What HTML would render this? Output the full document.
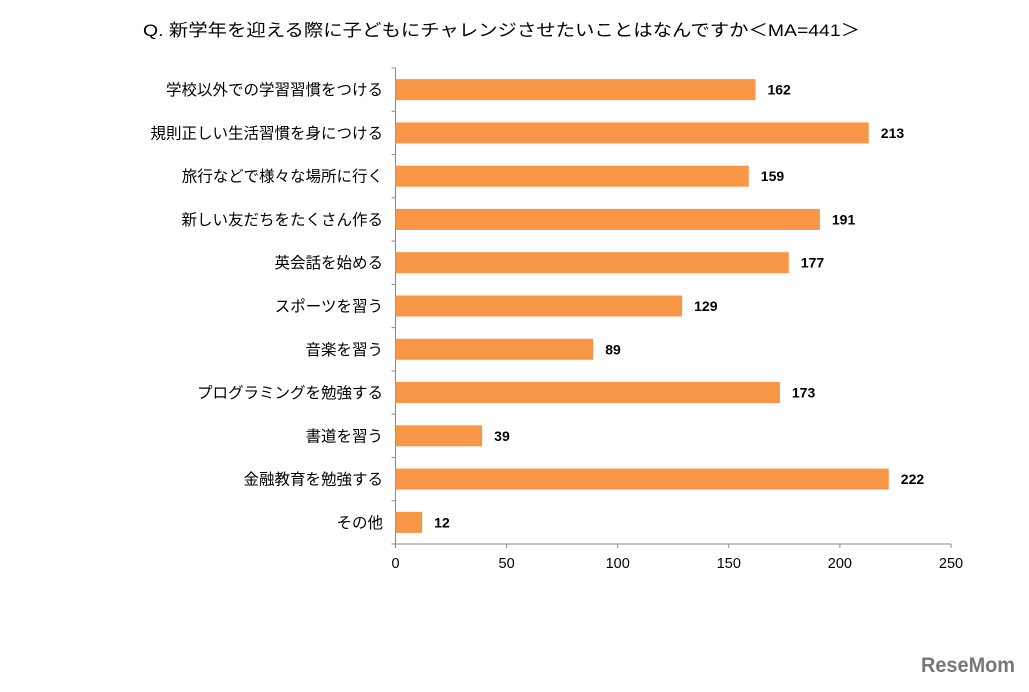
<!DOCTYPE html>
<html><head><meta charset="utf-8"><style>
body{margin:0;background:#fff;width:1029px;height:687px;overflow:hidden;font-family:"Liberation Sans","Noto Sans CJK JP",sans-serif;}
svg text{font-family:"Liberation Sans","Noto Sans CJK JP",sans-serif;fill:#000;}
</style></head><body>
<svg width="1029" height="687">
<text x="143" y="36" font-size="17" textLength="717" lengthAdjust="spacingAndGlyphs">Q. 新学年を迎える際に子どもにチャレンジさせたいことはなんですか＜MA=441＞</text>
<g id="plot"></g>
<g>
<text x="921" y="672" font-size="21" font-weight="bold" textLength="94" lengthAdjust="spacingAndGlyphs" style="fill:#777">ReseMom</text>
</g>
</svg>
<script>
const categories=["学校以外での学習習慣をつける","規則正しい生活習慣を身につける","旅行などで様々な場所に行く","新しい友だちをたくさん作る","英会話を始める","スポーツを習う","音楽を習う","プログラミングを勉強する","書道を習う","金融教育を勉強する","その他"];
const values=[162,213,159,191,177,129,89,173,39,222,12];
const ticks=[0,50,100,150,200,250];
const ns="http://www.w3.org/2000/svg";
const plotG=document.getElementById('plot');
const x0=395.5,x1=951,plotTop=68,plotBottom=544;
const xs=v=>x0+(v/250)*(x1-x0);
const band=(plotBottom-plotTop)/categories.length;
const yc=i=>plotTop+band*(i+0.5);
function el(t,a){const e=document.createElementNS(ns,t);for(const k in a)e.setAttribute(k,a[k]);plotG.appendChild(e);return e;}
let ax=el('line',{x1:x0,y1:plotTop,x2:x0,y2:plotBottom,stroke:'#888','stroke-width':1});


let bx=el('line',{x1:x0,y1:plotBottom,x2:x1,y2:plotBottom,stroke:'#888','stroke-width':1});


for(let i=0;i<=categories.length;i++){el('line',{x1:x0-4,x2:x0,y1:plotTop+band*i,y2:plotTop+band*i,stroke:'#888'});}
ticks.forEach(t=>{
 el('line',{x1:xs(t),x2:xs(t),y1:plotBottom,y2:plotBottom+4,stroke:'#888'});
 const tx=el('text',{x:xs(t),y:568,'font-size':14.5,'text-anchor':'middle'});tx.textContent=t;
 
 
});
categories.forEach((c,i)=>{
 const r=el('rect',{x:x0,y:yc(i)-10.5,width:xs(values[i])-x0,height:21,fill:'#F79646'});
 
 
 const l=el('text',{x:383,y:yc(i)+5.5,'font-size':15.5,'text-anchor':'end'});l.textContent=c;
 
 
 const v=el('text',{x:xs(values[i])+12,y:yc(i)+5,'font-size':14,'font-weight':'bold'});v.textContent=values[i];
 
 
});
</script>
</body></html>
